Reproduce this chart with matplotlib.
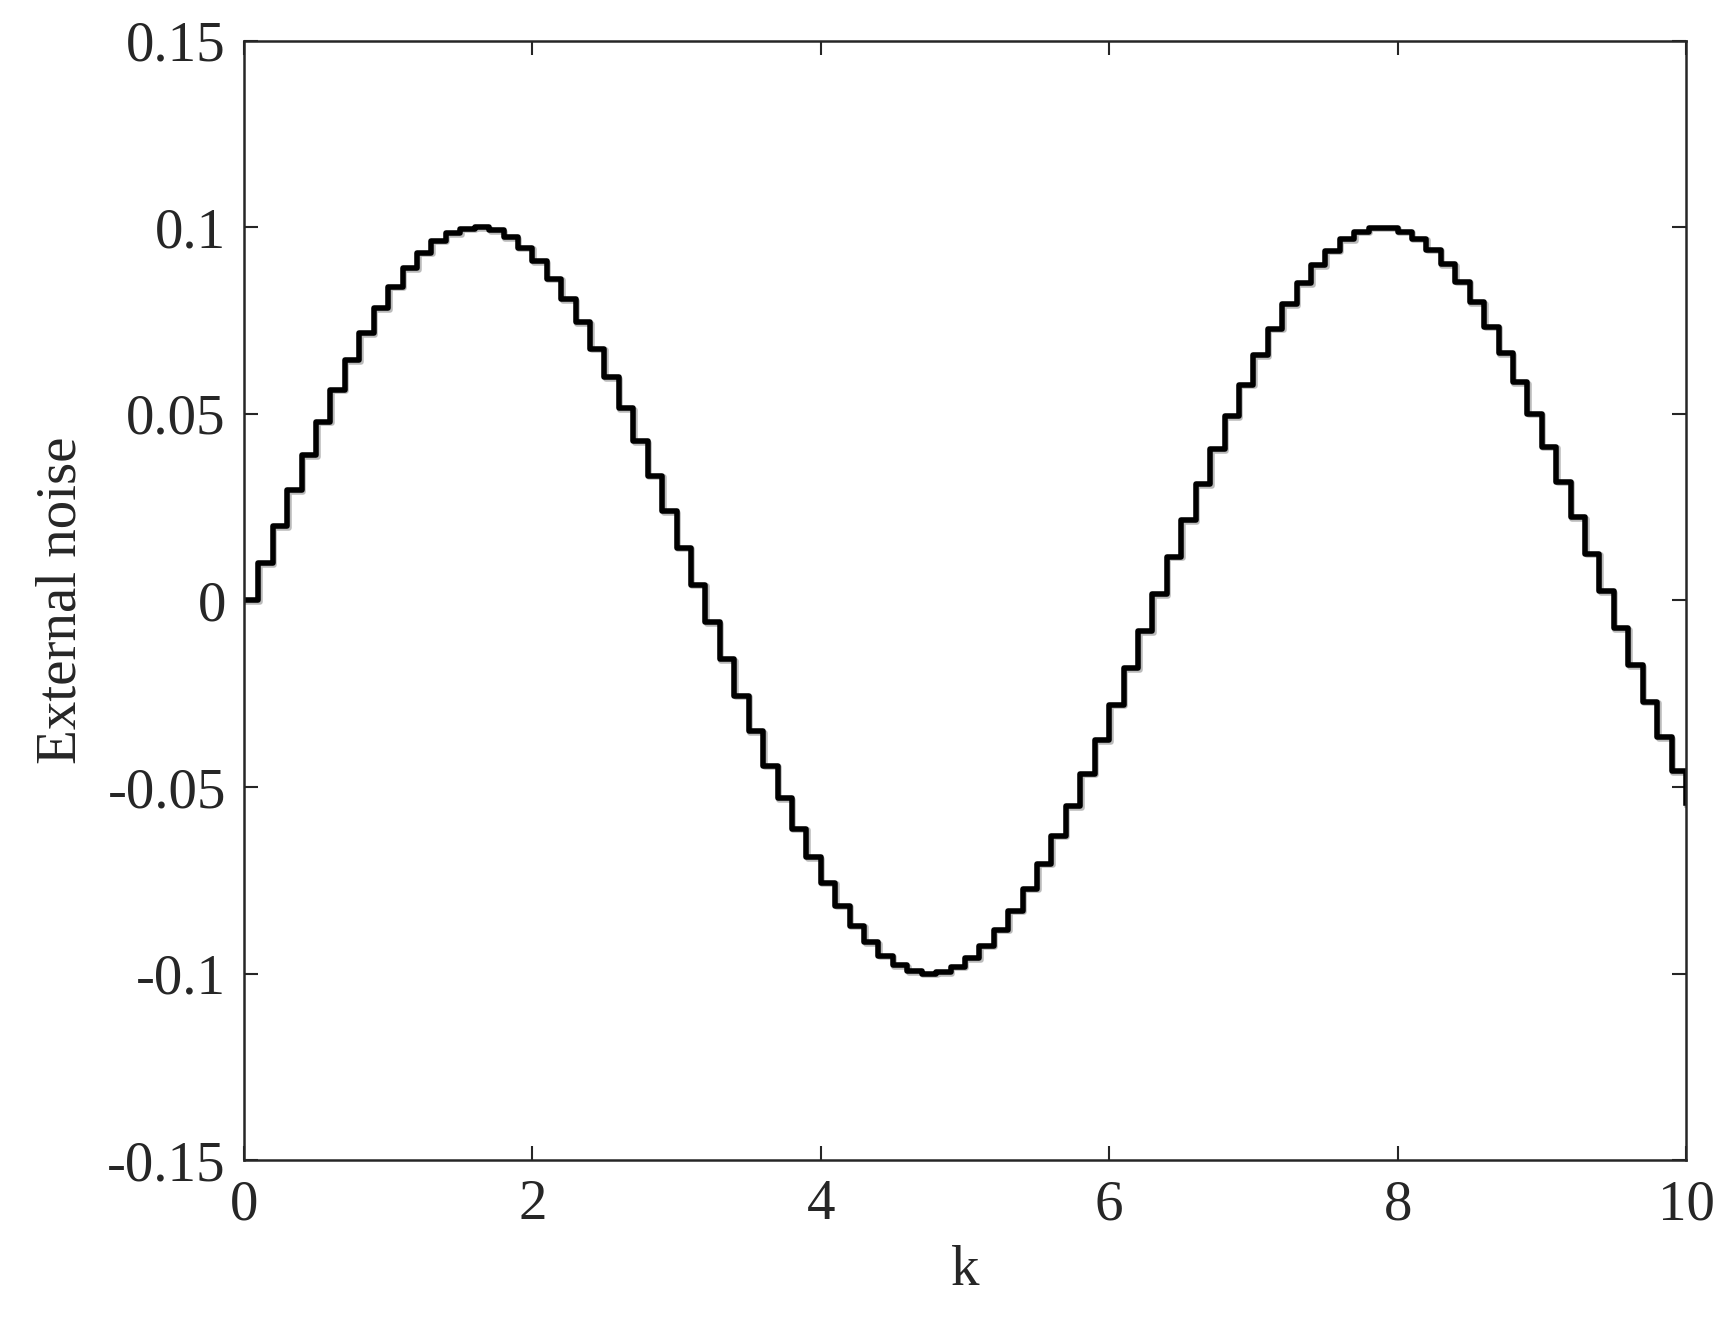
import matplotlib
matplotlib.use("Agg")
import matplotlib.pyplot as plt
import numpy as np

# sample instants k = 0, 0.1, ..., 10
k = np.linspace(0, 10, 101)

# external noise (one value per step)
noise = [
    0.0000, 0.0100, 0.0199, 0.0296, 0.0389, 0.0479, 0.0565, 0.0644, 0.0717, 0.0783,
    0.0841, 0.0891, 0.0932, 0.0964, 0.0985, 0.0997, 0.1000, 0.0992, 0.0974, 0.0946,
    0.0909, 0.0863, 0.0808, 0.0746, 0.0675, 0.0598, 0.0516, 0.0427, 0.0335, 0.0239,
    0.0141, 0.0042, -0.0058, -0.0158, -0.0256, -0.0351, -0.0443, -0.0530, -0.0612, -0.0688,
    -0.0757, -0.0818, -0.0872, -0.0916, -0.0952, -0.0978, -0.0994, -0.1000, -0.0996, -0.0982,
    -0.0959, -0.0926, -0.0883, -0.0832, -0.0773, -0.0706, -0.0631, -0.0551, -0.0465, -0.0374,
    -0.0279, -0.0182, -0.0083, 0.0017, 0.0117, 0.0215, 0.0312, 0.0405, 0.0494, 0.0578,
    0.0657, 0.0729, 0.0794, 0.0850, 0.0899, 0.0938, 0.0968, 0.0988, 0.0999, 0.0999,
    0.0989, 0.0970, 0.0941, 0.0902, 0.0855, 0.0799, 0.0734, 0.0663, 0.0585, 0.0501,
    0.0412, 0.0319, 0.0223, 0.0125, 0.0025, -0.0075, -0.0174, -0.0272, -0.0367, -0.0458,
    -0.0544,
]

xticks = [0, 2, 4, 6, 8, 10]
yticks = [-0.15, -0.1, -0.05, 0, 0.05, 0.1, 0.15]
ytick_labels = ["-0.15", "-0.1", "-0.05", "0", "0.05", "0.1", "0.15"]

plt.rcParams['font.family'] = ['Liberation Serif', 'DejaVu Serif']
ink = '#262626'

fig = plt.figure(figsize=(17.34, 13.44), dpi=100)
ax = fig.add_axes([0.1407, 0.1369, 0.8316, 0.8326])

# faint grey shadow under the black staircase
shift = matplotlib.transforms.ScaledTranslation(1.5/100, -1.5/100, fig.dpi_scale_trans)
ax.step(k, noise, where='post', color='#bbbbbb', linewidth=4,
        transform=ax.transData + shift)
ax.step(k, noise, where='post', color='black', linewidth=4)

ax.set_xlim(0, 10)
ax.set_ylim(-0.15, 0.15)
ax.set_xticks(xticks)
ax.set_xticklabels([str(t) for t in xticks])
ax.set_yticks(yticks)
ax.set_yticklabels(ytick_labels)

ax.tick_params(direction='in', length=10, width=1.5, top=True, right=True,
               labelsize=41, colors=ink)
ax.tick_params(axis='x', pad=14)
ax.tick_params(axis='y', pad=13)
for s in ax.spines.values():
    s.set_color(ink)
    s.set_linewidth(1.8)

ax.set_xlabel('k', fontsize=41, color=ink, labelpad=10)
ax.set_ylabel('External noise', fontsize=41, color=ink, labelpad=14)

fig.savefig('out.png', dpi=100)
